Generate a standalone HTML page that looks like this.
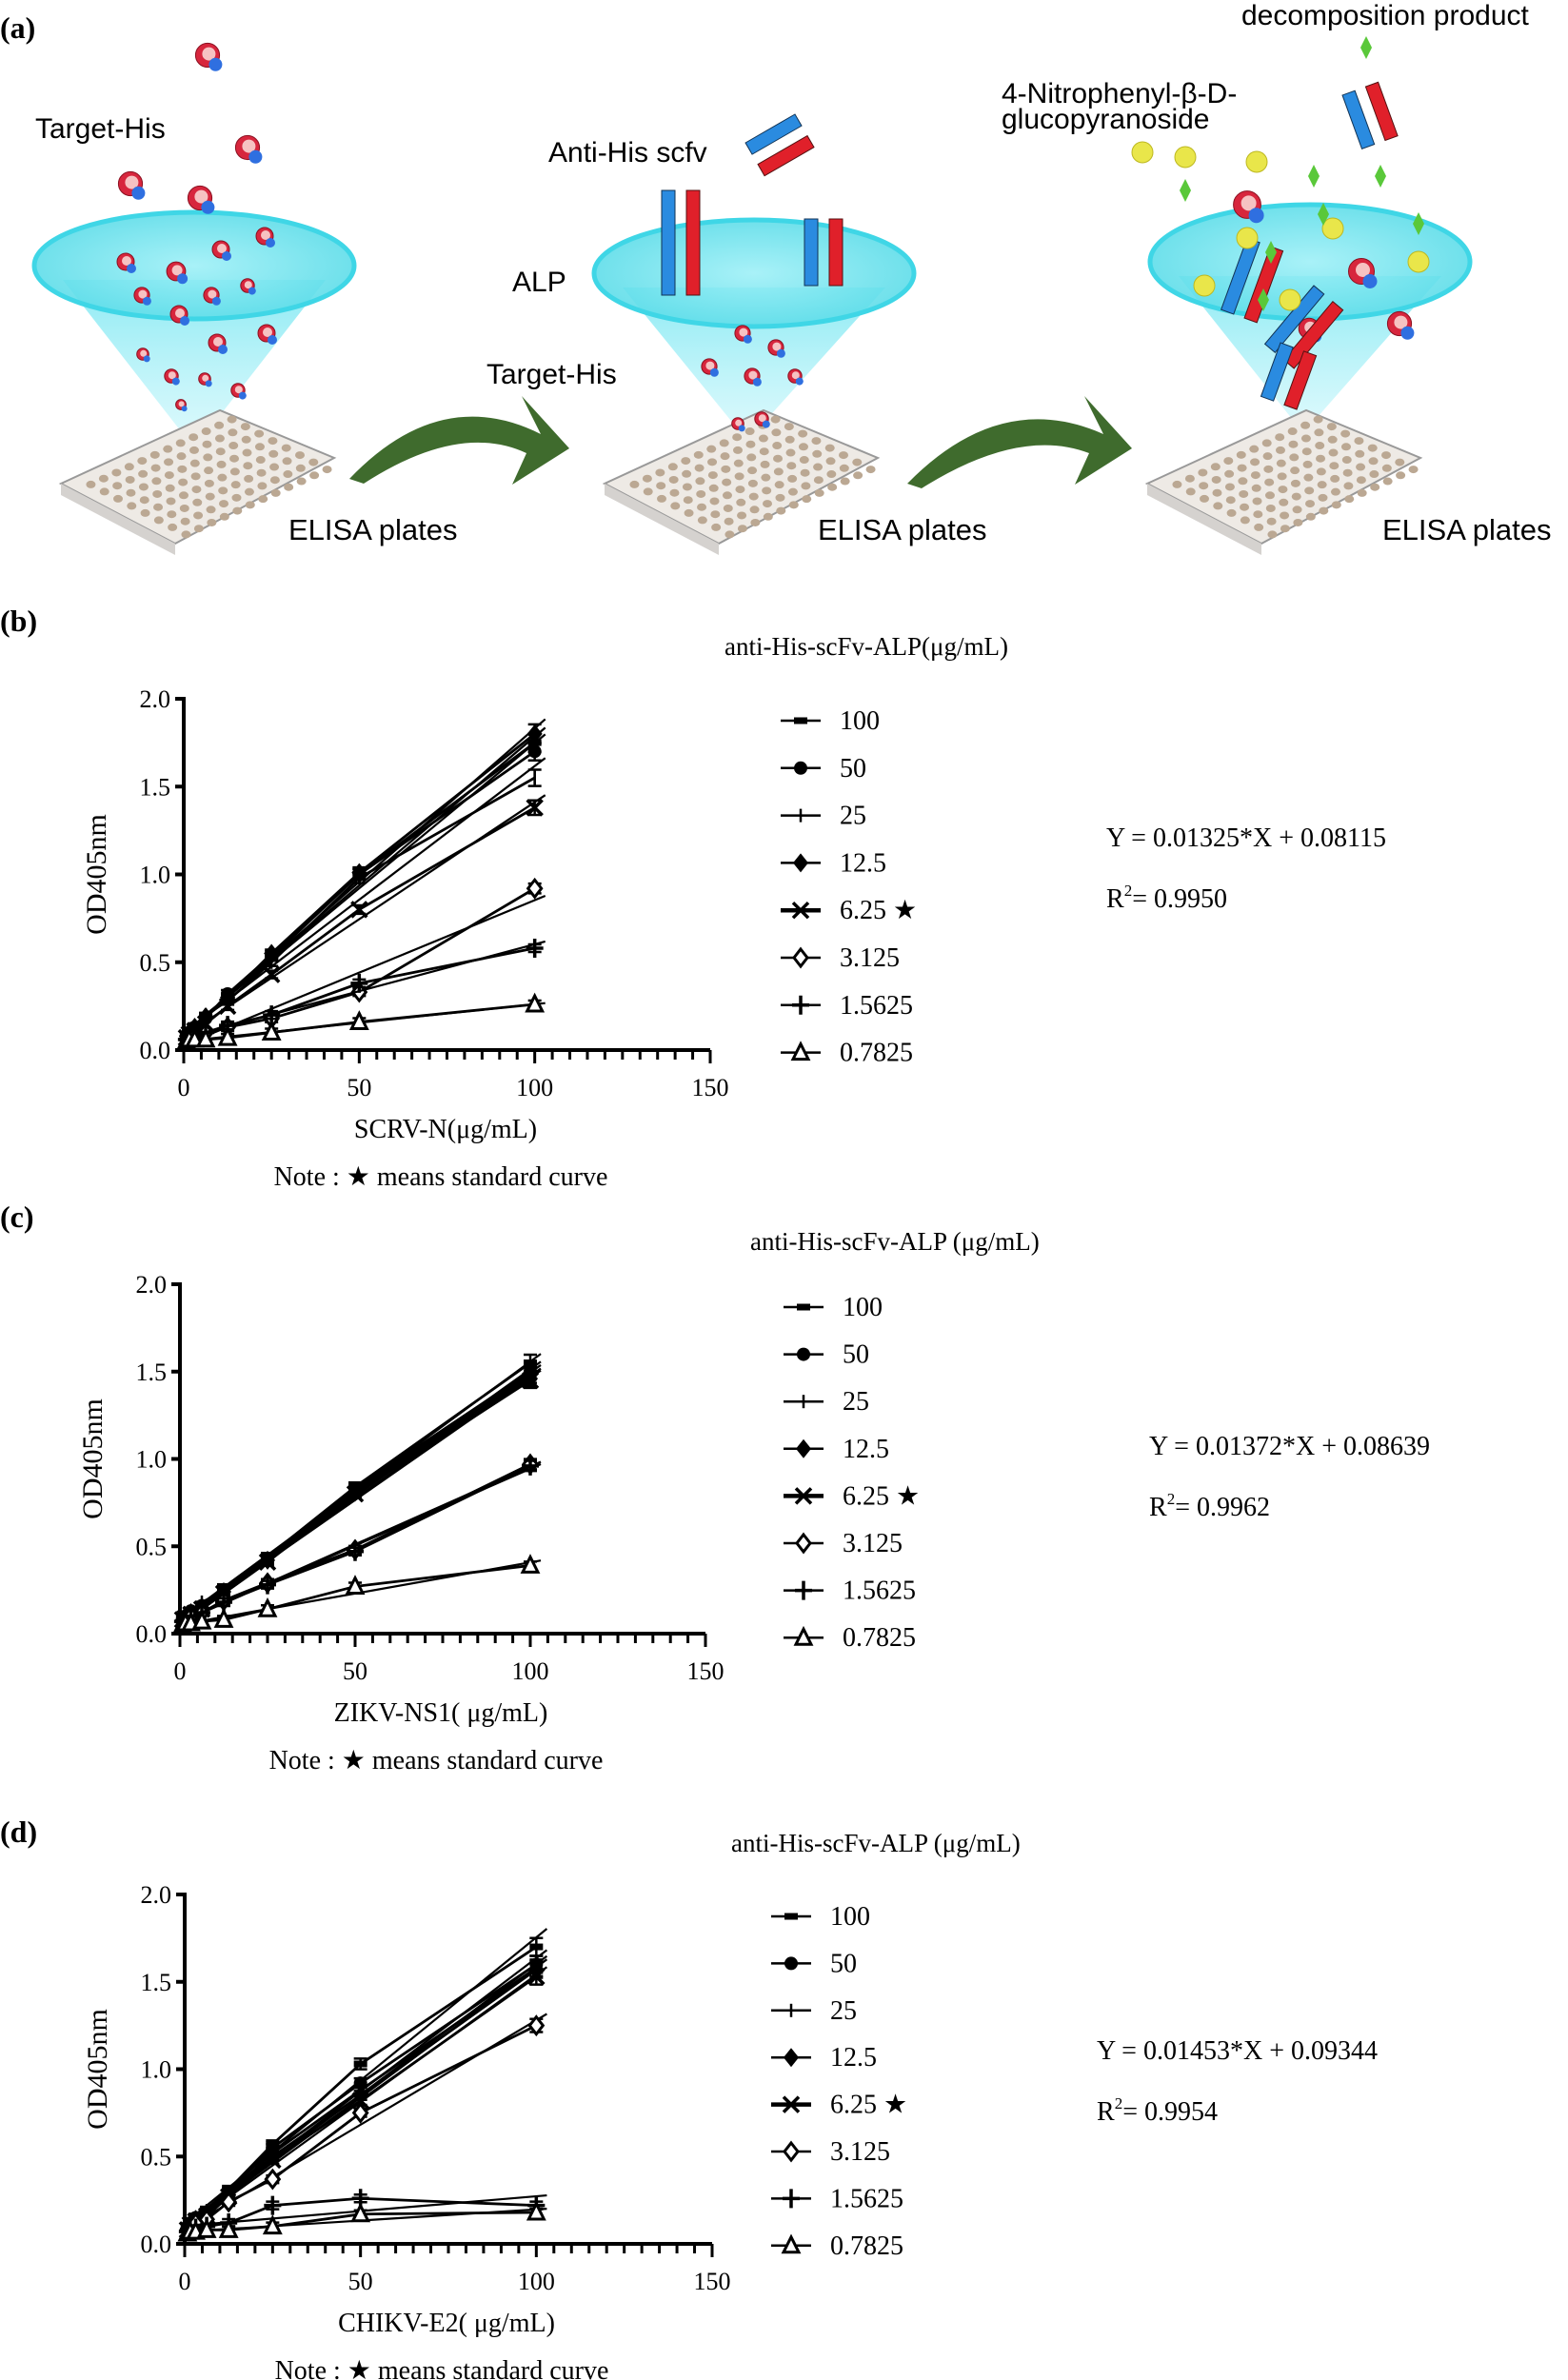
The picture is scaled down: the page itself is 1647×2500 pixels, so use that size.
<!DOCTYPE html>
<html><head><meta charset="utf-8">
<style>
html,body{margin:0;padding:0;background:#fff;}
body{width:1647px;height:2500px;position:relative;overflow:hidden;font-family:"Liberation Serif",serif;}
svg{position:absolute;left:0;top:0;}
.sans{font-family:"Liberation Sans",sans-serif;}
</style></head>
<body>
<svg id="fig" width="1647" height="2500" viewBox="0 0 1647 2500">
<defs>
<linearGradient id="cone" x1="0" y1="0" x2="0" y2="1">
<stop offset="0" stop-color="#7fe8f2" stop-opacity="0.9"/>
<stop offset="1" stop-color="#c8f6fb" stop-opacity="0.6"/>
</linearGradient>
<radialGradient id="disc" cx="0.5" cy="0.5" r="0.5">
<stop offset="0" stop-color="#9ff0f7"/><stop offset="1" stop-color="#5fdde9"/>
</radialGradient>
</defs>
<g id="panelA"></g>
</svg>
<script>
// ---------- chart data ----------
const xConc = [0.78, 1.5625, 3.125, 6.25, 12.5, 25, 50, 100];
const legendLabels = ["100","50","25","12.5","6.25","3.125","1.5625","0.7825"];
const markerTypes = ["dash","circle","tick","diamond","x","odiamond","plus","triangle"];
const yTicks = [0.0, 0.5, 1.0, 1.5, 2.0];
const xTicks = [0, 50, 100, 150];

const seriesB100 = [0.08,0.10,0.14,0.20,0.30,0.53,1.00,1.75];
const seriesB50  = [0.08,0.10,0.13,0.18,0.32,0.54,1.00,1.70];
const seriesB25  = [0.07,0.09,0.12,0.20,0.28,0.50,0.98,1.55];
const seriesB12  = [0.08,0.10,0.13,0.19,0.30,0.55,1.01,1.80];
const seriesB6   = [0.07,0.09,0.11,0.15,0.25,0.43,0.80,1.38];
const seriesB3   = [0.06,0.07,0.08,0.10,0.13,0.18,0.33,0.92];
const seriesB1   = [0.06,0.07,0.08,0.10,0.14,0.20,0.38,0.58];
const seriesB0   = [0.05,0.06,0.06,0.06,0.07,0.10,0.16,0.26];

const seriesC100 = [0.09,0.11,0.13,0.17,0.26,0.44,0.84,1.55];
const seriesC50  = [0.09,0.10,0.13,0.16,0.25,0.43,0.83,1.50];
const seriesC25  = [0.08,0.10,0.12,0.18,0.24,0.43,0.82,1.48];
const seriesC12  = [0.08,0.10,0.12,0.15,0.24,0.42,0.81,1.46];
const seriesC6   = [0.08,0.09,0.11,0.14,0.23,0.41,0.80,1.45];
const seriesC3   = [0.07,0.08,0.10,0.12,0.19,0.29,0.48,0.97];
const seriesC1   = [0.07,0.08,0.10,0.12,0.18,0.28,0.47,0.96];
const seriesC0   = [0.05,0.06,0.06,0.07,0.08,0.14,0.27,0.39];

const seriesD100 = [0.10,0.13,0.16,0.20,0.31,0.57,1.03,1.70];
const seriesD50  = [0.10,0.12,0.15,0.18,0.30,0.55,0.92,1.60];
const seriesD25  = [0.09,0.12,0.15,0.19,0.29,0.52,0.88,1.58];
const seriesD12  = [0.09,0.11,0.14,0.17,0.28,0.50,0.85,1.57];
const seriesD6   = [0.08,0.11,0.13,0.16,0.27,0.48,0.82,1.53];
const seriesD3   = [0.08,0.10,0.12,0.14,0.24,0.37,0.75,1.25];
const seriesD1   = [0.07,0.08,0.09,0.10,0.12,0.22,0.26,0.22];
const seriesD0   = [0.06,0.07,0.07,0.08,0.08,0.10,0.17,0.18];

const NS="http://www.w3.org/2000/svg";
const svg=document.getElementById('fig');
function mk(tag,attrs,parent,text){
  const e=document.createElementNS(NS,tag);
  for(const k in attrs)e.setAttribute(k,attrs[k]);
  if(text!==undefined)e.textContent=text;
  (parent||svg).appendChild(e);return e;
}

// ---------- panel a schematic ----------
const pa=document.getElementById('panelA');
function cone(cx,cy,rx,ry,ax,ay){
  const g=mk('g',{},pa);
  
  
  mk('polygon',{points:`${cx-rx+30},${cy+15} ${cx+rx-30},${cy+15} ${ax},${ay}`,fill:'url(#cone)'},g);
  mk('ellipse',{cx,cy,rx,ry,fill:'url(#disc)',stroke:'#3fd6e6','stroke-width':5,'fill-opacity':0.9},g);
}
function plate(dx){
  const g=mk('g',{},pa);
  
  
  mk('polygon',{points:`${64+dx},${508} ${231+dx},${431} ${351+dx},${481} ${184+dx},${571}`,fill:'#eeeae5',stroke:'#999','stroke-width':2},g);
  mk('polygon',{points:`${64+dx},${508} ${184+dx},${571} ${184+dx},${583} ${64+dx},${520}`,fill:'#d5d2cf'},g);
  for(let i=0;i<8;i++)for(let j=0;j<12;j++){
    const u=(j+0.7)/12.4,v=(i+0.7)/8.4;
    const x=64+dx+u*(231-64)+v*(184-64)+4, y=508+u*(431-508)+v*(571-508);
    mk('ellipse',{cx:x+8,cy:y,rx:5,ry:4,fill:'#bba893'},g);
  }
}
function arrow(x1,y1,x2,y2){
  const g=mk('path',{d:`M${x1},${y1} Q${(x1+x2)/2-20},${y1-100} ${x2-30},${y2-15} L${x2-50},${y2-55} L${x2},${y2} L${x2-60},${y2+38} L${x2-45},${y2+5} Q${(x1+x2)/2},${y1-60} ${x1+15},${y1+5} Z`,fill:'#3f6b2d'},pa);
  
  
}
function mol(x,y,s){
  mk('circle',{cx:x,cy:y,r:9*s,fill:'#d7263d',stroke:'#8a1020','stroke-width':1},pa);
  mk('circle',{cx:x+1*s,cy:y-1*s,r:5*s,fill:'#f6c2c2'},pa);
  mk('circle',{cx:x+6*s,cy:y+7*s,r:5*s,fill:'#2f6fe0'},pa);
}
cone(204,279,168,56,204,471);
cone(792,287,168,56,785,463);
cone(1376,275,168,60,1369,455);
plate(0);plate(571);plate(1141);
arrow(367,503,598,471);
arrow(953,508,1189,471);
[[218,58,1.4],[260,155,1.4],[137,193,1.4],[210,208,1.4],[278,248,1],[232,262,1],[132,275,1],[185,285,1.1],[260,300,0.8],[149,310,0.9],[222,310,0.9],[188,330,1],[280,350,1],[228,360,1],[150,372,0.7],[180,395,0.8],[215,398,0.7],[250,410,0.8],[190,425,0.6],[780,350,0.9],[815,365,0.9],[745,385,0.9],[790,395,0.9],[835,395,0.8],[800,440,0.8],[775,445,0.7],[1310,215,1.6],[1430,285,1.5],[1470,340,1.4],[1375,345,1.2]].forEach(m=>mol(m[0],m[1],m[2]));
function scfv(x,y,h,ang){
  const g=mk('g',{transform:`translate(${x},${y}) rotate(${ang})`},pa);
  mk('rect',{x:0,y:0,width:14,height:h,fill:'#2a8be0',stroke:'#135',"stroke-width":1},g);
  mk('rect',{x:26,y:0,width:14,height:h,fill:'#e0202a',stroke:'#511',"stroke-width":1},g);
}
scfv(835,120,60,60);scfv(695,200,110,0);scfv(845,230,70,0);
scfv(1310,250,80,20);scfv(1380,300,80,40);scfv(1345,360,60,20);scfv(1410,100,60,-20);
[[1245,165],[1200,160],[1320,170],[1310,250],[1400,240],[1265,300],[1355,315],[1490,275]].forEach(p=>mk('circle',{cx:p[0],cy:p[1],r:11,fill:'#e9e64a',stroke:'#bdb820'},pa));
[[1435,50],[1380,185],[1450,185],[1245,200],[1390,225],[1490,235],[1335,265],[1327,315]].forEach(p=>mk('polygon',{points:`${p[0]},${p[1]-12} ${p[0]+6},${p[1]} ${p[0]},${p[1]+12} ${p[0]-6},${p[1]}`,fill:'#5ac83a'},pa));
function T(x,y,txt,name,size,cls,anchor,weight){
  const t=mk('text',{x,y,'font-size':size,'text-anchor':anchor||'start','font-weight':weight||'normal',class:cls||''},svg,txt);
  
  
  return t;
}
T(0,40,'(a)','panel-a-label',32,'','start','bold');
T(37,145,'Target-His','target-his-label-1',30,'sans');
T(576,170,'Anti-His scfv','anti-his-scfv-label',30,'sans');
T(538,306,'ALP','alp-label',30,'sans');
T(511,403,'Target-His','target-his-label-2',30,'sans');
T(303,567,'ELISA plates','elisa-plates-label-1',31,'sans');
T(859,567,'ELISA plates','elisa-plates-label-2',31,'sans');
T(1452,567,'ELISA plates','elisa-plates-label-3',31,'sans');
T(1304,26,'decomposition product','decomposition-product-label',30,'sans');
T(1052,108,'4-Nitrophenyl-β-D-','substrate-label-line1',30,'sans');
T(1052,135,'glucopyranoside','substrate-label-line2',30,'sans');

// ---------- charts ----------
function marker(g,type,x,y){
  const s=8;let e;
  switch(type){
    case 'dash': e=mk('rect',{x:x-7,y:y-3.5,width:14,height:7,fill:'#000'},g);break;
    case 'circle': e=mk('circle',{cx:x,cy:y,r:7,fill:'#000'},g);break;
    case 'tick': e=mk('line',{x1:x,y1:y-7,x2:x,y2:y+7,stroke:'#000','stroke-width':2.5},g);break;
    case 'diamond': e=mk('polygon',{points:`${x},${y-10} ${x+8},${y} ${x},${y+10} ${x-8},${y}`,fill:'#000'},g);break;
    case 'x': e=mk('path',{d:`M${x-s},${y-s}L${x+s},${y+s}M${x+s},${y-s}L${x-s},${y+s}`,stroke:'#000','stroke-width':3.5},g);break;
    case 'odiamond': e=mk('polygon',{points:`${x},${y-9} ${x+7},${y} ${x},${y+9} ${x-7},${y}`,fill:'#fff',stroke:'#000','stroke-width':3},g);break;
    case 'plus': e=mk('path',{d:`M${x-9},${y}L${x+9},${y}M${x},${y-10}L${x},${y+10}`,stroke:'#000','stroke-width':3.5},g);break;
    case 'triangle': e=mk('polygon',{points:`${x},${y-9} ${x+8},${y+7} ${x-8},${y+7}`,fill:'#fff',stroke:'#000','stroke-width':3},g);break;
  }
  return e;
}
function drawChart(c){
  const g=mk('g',{});
  
  
  const sx=v=>c.x0+(v-0)/150*(c.x1-c.x0);
  const sy=v=>c.y0+(v-0)/2*(c.y1-c.y0);
  const ya=mk('line',{x1:c.x0,y1:c.y0+1,x2:c.x0,y2:c.y1-2,stroke:'#000','stroke-width':4},g);
  
  const xa=mk('line',{x1:c.x0-2,y1:c.y0,x2:c.x1,y2:c.y0,stroke:'#000','stroke-width':4},g);
  
  yTicks.forEach(v=>{
    mk('line',{x1:c.x0-9,y1:sy(v),x2:c.x0,y2:sy(v),stroke:'#000','stroke-width':4},g);
    const t=mk('text',{x:c.x0-14,y:sy(v)+9,'font-size':26,'text-anchor':'end'},g,v.toFixed(1));
    
  });
  for(let v=0;v<=150;v+=5){
    mk('line',{x1:sx(v),y1:c.y0,x2:sx(v),y2:c.y0+(v%50===0?14:10),stroke:'#000','stroke-width':3},g);
  }
  xTicks.forEach(v=>{
    const t=mk('text',{x:sx(v),y:c.y0+48,'font-size':26,'text-anchor':'middle'},g,String(v));
    
  });
  c.series.forEach((arr,i)=>{
    const sg=mk('g',{},g);
    
    
    const n=arr.length;let mx=0,my=0;
    xConc.forEach((x,k)=>{mx+=x;my+=arr[k];});mx/=n;my/=n;
    let sxy=0,sxx=0;xConc.forEach((x,k)=>{sxy+=(x-mx)*(arr[k]-my);sxx+=(x-mx)*(x-mx);});
    const b=sxy/sxx,a=my-b*mx;
    mk('line',{x1:sx(0),y1:sy(a),x2:sx(103),y2:sy(a+b*103),stroke:'#000','stroke-width':2.2},sg);
    const pts=xConc.map((x,k)=>sx(x)+','+sy(arr[k])).join(' ');
    mk('polyline',{points:pts,fill:'none',stroke:'#000','stroke-width':2.8},sg);
    xConc.forEach((x,k)=>{
      const px=sx(x),py=sy(arr[k]),e=Math.max(4,arr[k]*0.03*(c.y0-c.y1)/2);
      if(x>=12){mk('path',{d:`M${px},${py-e}V${py+e}M${px-7},${py-e}H${px+7}M${px-7},${py+e}H${px+7}`,stroke:'#000','stroke-width':2.5},sg);}
      const m=marker(sg,markerTypes[i],px,py);
      
      
    });
  });
  const yt=mk('text',{x:0,y:0,'font-size':30,'text-anchor':'middle',transform:`translate(${c.x0-82},${(c.y0+c.y1)/2}) rotate(-90)`},g,'OD405nm');
  
  const xt=mk('text',{x:c.xlx,y:c.y0+92,'font-size':28,'text-anchor':'middle'},g,c.xlabel);
  
  const nt=mk('text',{x:c.xlx-5,y:c.y0+142,'font-size':28,'text-anchor':'middle'},g,'Note : ★ means  standard curve');
  
  const lt=mk('text',{x:c.ltx,y:c.lty,'font-size':27},g,c.ltitle);
  
  legendLabels.forEach((lab,i)=>{
    const ly=c.ly0+i*c.lstep;
    const lg=mk('g',{},g);
    
    
    mk('line',{x1:c.lx,y1:ly,x2:c.lx+42,y2:ly,stroke:'#000','stroke-width':i===4?4.5:2.5},lg);
    marker(lg,markerTypes[i],c.lx+21,ly);
    mk('text',{x:c.lx+62,y:ly+9,'font-size':28},lg,lab+(i===4?' ★':''));
  });
  const eq=mk('text',{x:c.ex,y:c.ey,'font-size':28},g,c.eq);
  
  const r2=mk('text',{x:c.ex,y:c.ey+64,'font-size':28},g);
  
  mk('tspan',{},r2,'R');mk('tspan',{'font-size':17,dy:-12},r2,'2');mk('tspan',{dy:12},r2,'= '+c.r2);
  const pl=mk('text',{x:0,y:c.ply,'font-size':32,'font-weight':'bold'},g,c.plabel);
  
}
drawChart({id:'chart-b',x0:193,x1:746,y0:1103,y1:734,series:[seriesB100,seriesB50,seriesB25,seriesB12,seriesB6,seriesB3,seriesB1,seriesB0],
  xlabel:'SCRV-N(μg/mL)',xlx:468,ltitle:'anti-His-scFv-ALP(μg/mL)',ltx:761,lty:688,lx:820,ly0:757,lstep:49.8,
  eq:'Y = 0.01325*X + 0.08115',r2:'0.9950',ex:1162,ey:889,plabel:'(b)',ply:663});
drawChart({id:'chart-c',x0:189,x1:741,y0:1716,y1:1349,series:[seriesC100,seriesC50,seriesC25,seriesC12,seriesC6,seriesC3,seriesC1,seriesC0],
  xlabel:'ZIKV-NS1( μg/mL)',xlx:463,ltitle:'anti-His-scFv-ALP (μg/mL)',ltx:788,lty:1313,lx:823,ly0:1373,lstep:49.6,
  eq:'Y = 0.01372*X + 0.08639',r2:'0.9962',ex:1207,ey:1528,plabel:'(c)',ply:1289});
drawChart({id:'chart-d',x0:194,x1:748,y0:2357,y1:1990,series:[seriesD100,seriesD50,seriesD25,seriesD12,seriesD6,seriesD3,seriesD1,seriesD0],
  xlabel:'CHIKV-E2( μg/mL)',xlx:469,ltitle:'anti-His-scFv-ALP (μg/mL)',ltx:768,lty:1945,lx:810,ly0:2013,lstep:49.4,
  eq:'Y = 0.01453*X + 0.09344',r2:'0.9954',ex:1152,ey:2163,plabel:'(d)',ply:1935});
</script>
</body></html>
